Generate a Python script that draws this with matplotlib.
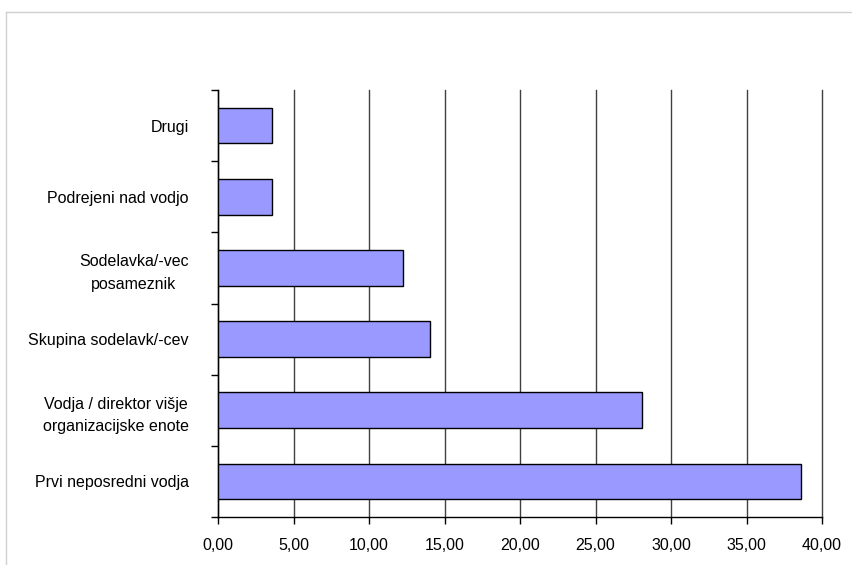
import matplotlib.pyplot as plt
from matplotlib.lines import Line2D
from matplotlib.ticker import FuncFormatter, MultipleLocator, FixedLocator

categories = [
    "Prvi neposredni vodja",
    "Vodja / direktor višje\norganizacijske enote",
    "Skupina sodelavk/-cev",
    "Sodelavka/-vec\nposameznik",
    "Podrejeni nad vodjo",
    "Drugi",
]
values = [38.63, 28.06, 14.04, 12.27, 3.56, 3.56]

plt.rcParams['font.family'] = ['Liberation Sans', 'DejaVu Sans']

fig = plt.figure(figsize=(8.52, 5.65), dpi=100)
ax = fig.add_axes([218 / 852, 48 / 565, 604 / 852, 427 / 565])

pos = list(range(len(categories)))
ax.barh(pos, values, height=0.5, color='#9999ff', edgecolor='black',
        linewidth=1.0, zorder=3)

ax.set_xlim(0, 40)
ax.set_ylim(-0.5, len(categories) - 0.5)
ax.xaxis.set_major_locator(MultipleLocator(5))
ax.xaxis.set_major_formatter(FuncFormatter(lambda v, p: f"{v:.2f}".replace('.', ',')))
ax.grid(axis='x', color='#404040', linewidth=1.0, zorder=1)
for gl in ax.get_xgridlines():
    gl.set_clip_on(False)

# category labels between the boundary ticks
ax.set_yticks(pos)
ax.set_yticklabels(categories, multialignment='center', linespacing=1.6)
ax.yaxis.set_minor_locator(FixedLocator([p - 0.5 for p in pos] + [len(pos) - 0.5]))
ax.tick_params(axis='y', which='major', length=0, pad=21, labelsize=11.5)
ax.tick_params(axis='y', which='minor', length=5, width=1, direction='out', color='black')
ax.tick_params(axis='x', length=5, width=1, direction='out', pad=10, labelsize=11.5)

for side in ('top', 'right'):
    ax.spines[side].set_visible(False)
for side in ('left', 'bottom'):
    ax.spines[side].set_color('black')
    ax.spines[side].set_linewidth(1.0)

# outer chart frame
fig.add_artist(Line2D([5.5 / 852, 1.0], [1 - 11.5 / 565, 1 - 11.5 / 565],
                      transform=fig.transFigure, color='#d0d0d0', linewidth=1.0))
fig.add_artist(Line2D([5.5 / 852, 5.5 / 852], [0.0, 1 - 11.5 / 565],
                      transform=fig.transFigure, color='#d0d0d0', linewidth=1.0))

fig.savefig('out.png', dpi=100)
